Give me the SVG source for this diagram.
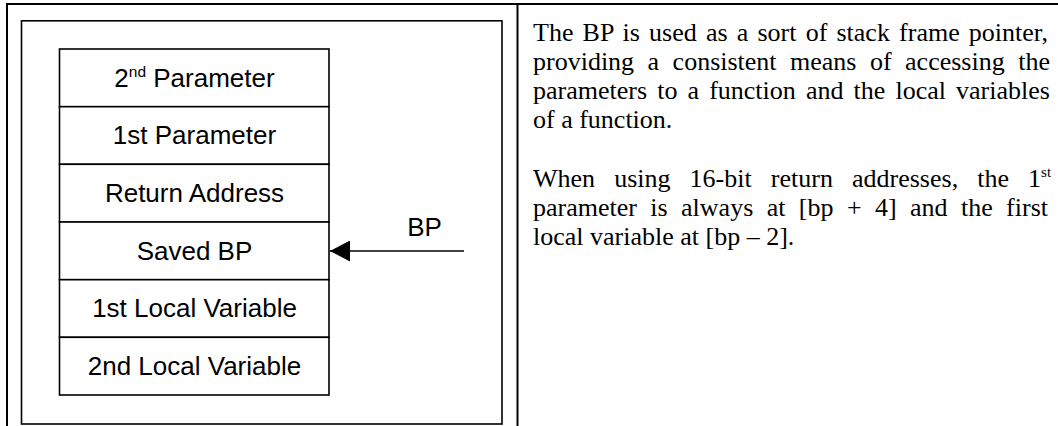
<svg xmlns="http://www.w3.org/2000/svg" width="1058" height="426" viewBox="0 0 1058 426">
<style>
.frame{fill:none;stroke:#000;stroke-width:2}
.inner{fill:#fff;stroke:#000;stroke-width:1.6}
.cell{fill:#fff;stroke:#000;stroke-width:1.6}
.lbl{font-family:"Liberation Sans",Arial,sans-serif;font-size:26px;fill:#000;text-anchor:middle}
.body{font-family:"Liberation Serif","Times New Roman",serif;font-size:26px;fill:#000}
.conn{stroke:#000;stroke-width:1.6;fill:none}
</style>
<defs>
<marker id="ah" markerWidth="20" markerHeight="21" refX="20" refY="10.5" orient="auto" markerUnits="userSpaceOnUse">
<path d="M20,10.5 L0,0 L0,21 Z" fill="#000"/>
</marker>
</defs>
<rect width="1058" height="426" fill="#fff"/>
<g id="table">
<line class="frame" x1="6" y1="4" x2="1058" y2="4"/>
<line class="frame" x1="7" y1="3" x2="7" y2="426"/>
<line class="frame" x1="517.5" y1="3" x2="517.5" y2="426"/>
</g>
<g id="inner-frame">
<rect class="inner" x="21.5" y="20.8" width="480.5" height="403.2"/>
</g>
<g id="cell-2nd-parameter">
<rect class="cell" x="59.5" y="49" width="269.5" height="57.7"/>
<text class="lbl" x="194.5" y="86.5">2<tspan font-size="15.5" dy="-10">nd</tspan><tspan dy="10"> Parameter</tspan></text>
</g>
<g id="cell-1st-parameter">
<rect class="cell" x="59.5" y="106.7" width="269.5" height="57.6"/>
<text class="lbl" x="194.5" y="144.2">1st Parameter</text>
</g>
<g id="cell-return-address">
<rect class="cell" x="59.5" y="164.3" width="269.5" height="57.7"/>
<text class="lbl" x="194.5" y="201.8">Return Address</text>
</g>
<g id="cell-saved-bp">
<rect class="cell" x="59.5" y="222" width="269.5" height="57.7"/>
<text class="lbl" x="194.5" y="259.5">Saved BP</text>
</g>
<g id="cell-1st-local">
<rect class="cell" x="59.5" y="279.7" width="269.5" height="57.6"/>
<text class="lbl" x="194.5" y="317.2">1st Local Variable</text>
</g>
<g id="cell-2nd-local">
<rect class="cell" x="59.5" y="337.3" width="269.5" height="57.7"/>
<text class="lbl" x="194.5" y="374.8">2nd Local Variable</text>
</g>
<g id="bp-label">
<text class="lbl" x="424.5" y="236">BP</text>
</g>
<g id="connectors">
<line class="conn" x1="464" y1="251" x2="330" y2="251" marker-end="url(#ah)"/>
</g>
<g id="description">
<text class="body" x="533" y="41" word-spacing="2.67">The BP is used as a sort of stack frame pointer,</text>
<text class="body" x="533" y="70" word-spacing="6.97">providing a consistent means of accessing the</text>
<text class="body" x="533" y="99" word-spacing="3.61">parameters to a function and the local variables</text>
<text class="body" x="533" y="128">of a function.</text>
<text class="body" x="533" y="187" word-spacing="12.6">When using 16-bit return addresses, the 1<tspan font-size="15" dy="-10">st</tspan></text>
<text class="body" x="533" y="216" word-spacing="6.9">parameter is always at [bp + 4] and the first</text>
<text class="body" x="533" y="245">local variable at [bp – 2].</text>
</g>
</svg>
